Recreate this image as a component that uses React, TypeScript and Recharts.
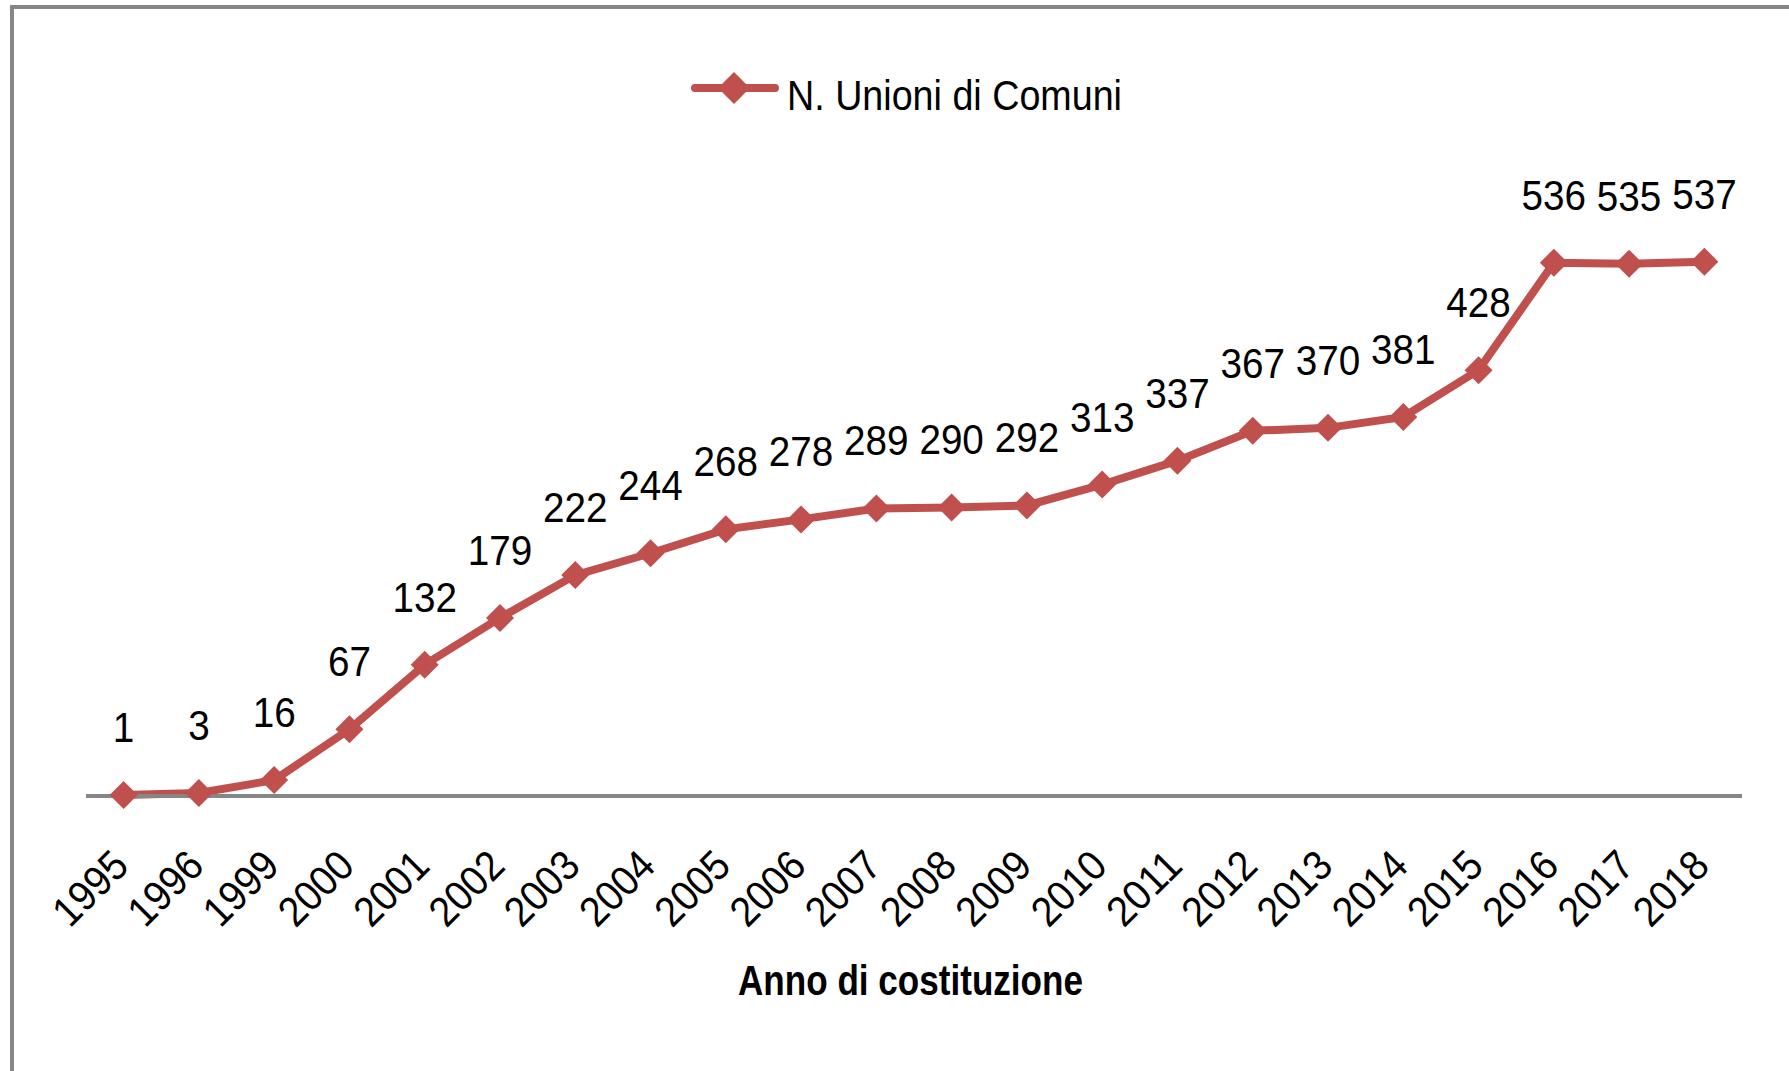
import { LineChart, Line, XAxis, YAxis, Legend, LabelList } from 'recharts'

const years = [
  '1995', '1996', '1999', '2000', '2001', '2002', '2003', '2004', '2005', '2006', '2007',
  '2008', '2009', '2010', '2011', '2012', '2013', '2014', '2015', '2016', '2017', '2018',
]
const unioni = [
  1, 3, 16, 67, 132, 179, 222, 244, 268, 278, 289, 290, 292, 313, 337, 367, 370, 381, 428, 536,
  535, 537,
]
const seriesName = 'N. Unioni di Comuni'
const axisTitle = 'Anno di costituzione'

const RED = '#C0504D'
const GRID = '#868686'
// Calibri is not available: Liberation Sans squeezed to Calibri's narrower advance
const FONT = '"Liberation Sans", Arial, sans-serif'
const FONT_SIZE = 42
const DIGIT_W = 21.5

const data = years.map((year, i) => ({ year, value: unioni[i] }))

function Diamond({ cx, cy }: { cx?: number; cy?: number }) {
  if (cx == null || cy == null) return null
  const r = 14
  return (
    <polygon
      points={`${cx},${cy - r} ${cx + r},${cy} ${cx},${cy + r} ${cx - r},${cy}`}
      fill={RED}
      stroke="none"
    />
  )
}

function YearTick({ x, y, payload }: { x?: number; y?: number; payload?: { value: string } }) {
  if (x == null || y == null || !payload) return null
  const tx = x + 7
  const ty = y + 64
  return (
    <text
      x={tx}
      y={ty}
      transform={`rotate(-45, ${tx}, ${ty})`}
      textAnchor="end"
      fontSize={FONT_SIZE}
      fontFamily={FONT}
      textLength={payload.value.length * DIGIT_W}
      lengthAdjust="spacingAndGlyphs"
      fill="#000"
    >
      {payload.value}
    </text>
  )
}

function ValueLabel(props: { x?: number; y?: number; value?: number }) {
  const { x, y, value } = props
  if (x == null || y == null || value == null) return null
  const s = String(value)
  return (
    <text
      x={x}
      y={y - 53}
      textAnchor="middle"
      fontSize={FONT_SIZE}
      fontFamily={FONT}
      textLength={s.length * DIGIT_W}
      lengthAdjust="spacingAndGlyphs"
      fill="#000"
    >
      {s}
    </text>
  )
}

function LegendRow() {
  return (
    <div style={{ height: 140 }}>
      <svg width={1789} height={70} style={{ display: 'block' }}>
        <line x1={695} x2={775} y1={29} y2={29} stroke={RED} strokeWidth={8} strokeLinecap="round" />
        <polygon points="734,13 750,29 734,45 718,29" fill={RED} />
        <text
          x={787}
          y={51}
          fontSize={FONT_SIZE}
          fontFamily={FONT}
          textLength={335}
          lengthAdjust="spacingAndGlyphs"
          fill="#000"
        >
          {seriesName}
        </text>
      </svg>
    </div>
  )
}

function AxisTitle({ viewBox }: { viewBox?: { x: number; y: number; width: number } }) {
  if (!viewBox) return null
  return (
    <text
      x={738}
      y={viewBox.y + 199}
      fontSize={FONT_SIZE}
      fontWeight="bold"
      fontFamily={FONT}
      textLength={345}
      lengthAdjust="spacingAndGlyphs"
      fill="#000"
    >
      {axisTitle}
    </text>
  )
}

export default function App() {
  return (
    <div
      style={{
        position: 'absolute',
        left: 0,
        top: 0,
        width: 1789,
        height: 1071,
        background: '#fff',
        overflow: 'hidden',
      }}
    >
      {/* outer chart frame: only its top and left edges fall inside the picture */}
      <div
        style={{
          position: 'absolute',
          left: 10,
          top: 5,
          width: 1800,
          height: 1100,
          borderTop: `4px solid ${GRID}`,
          borderLeft: `4px solid ${GRID}`,
        }}
      />
      <LineChart
        width={1789}
        height={1071}
        data={data}
        margin={{ top: 59, right: 47, left: 86, bottom: 155 }}
        style={{ position: 'absolute', left: 0, top: 0 }}
      >
        <XAxis
          dataKey="year"
          height={120}
          padding={{ left: 37.6, right: 37.6 }}
          axisLine={{ stroke: GRID, strokeWidth: 4 }}
          tickLine={false}
          tick={<YearTick />}
          interval={0}
          label={<AxisTitle />}
        />
        <YAxis hide domain={[0, 600]} />
        <Legend
          verticalAlign="top"
          wrapperStyle={{ left: 0, top: 59, width: 1789 }}
          content={<LegendRow />}
        />
        <Line
          type="linear"
          dataKey="value"
          name={seriesName}
          stroke={RED}
          strokeWidth={8}
          dot={<Diamond />}
          activeDot={false}
          isAnimationActive={false}
        >
          <LabelList dataKey="value" content={<ValueLabel />} />
        </Line>
      </LineChart>
    </div>
  )
}
